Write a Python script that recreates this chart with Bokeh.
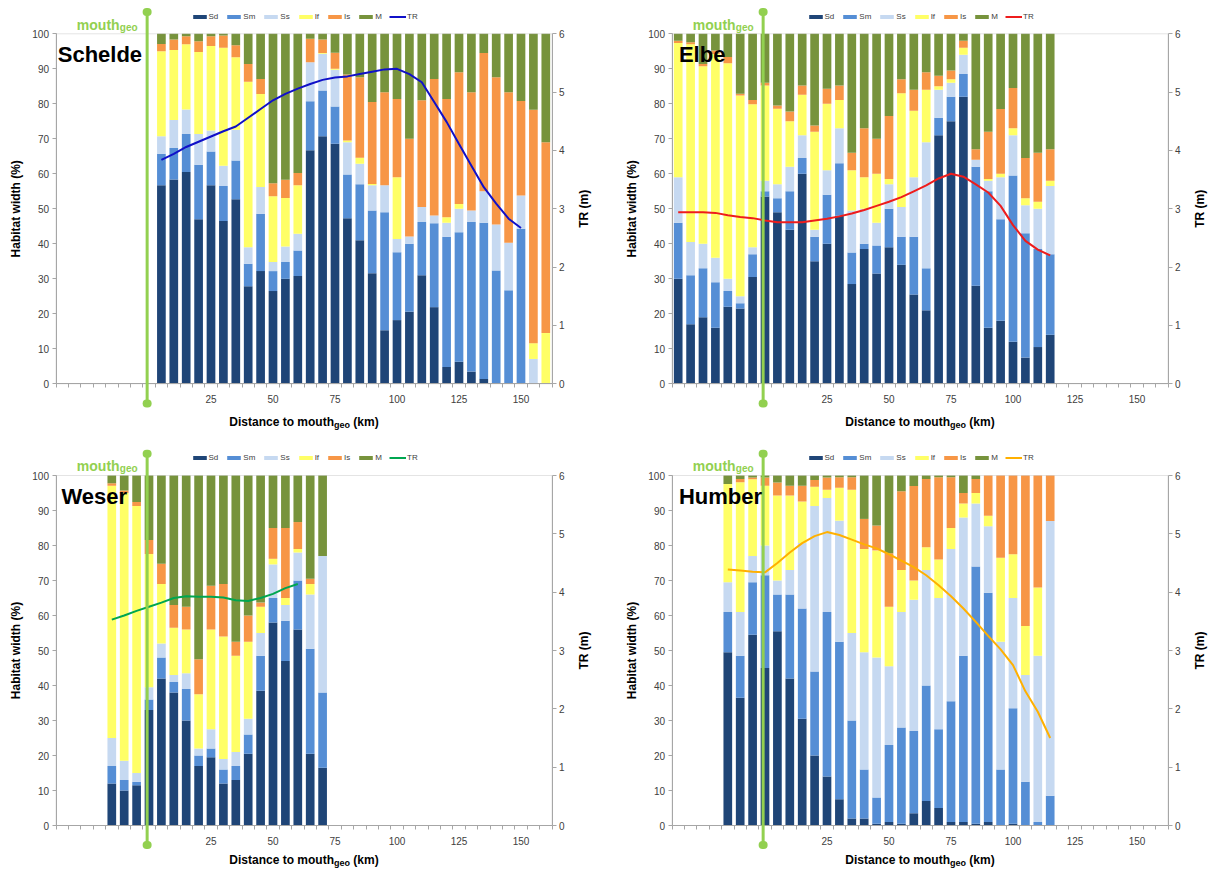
import numpy as np
from bokeh.plotting import figure
from bokeh.models import (Range1d, LinearAxis, FixedTicker, Label, Arrow, TeeHead,
                          Legend, LegendItem, BoxAnnotation)
from bokeh.layouts import column, row
from bokeh.embed import file_html
from bokeh.resources import INLINE

# ---------------- data (cumulative upper bounds of each habitat class, %) ----------------
CLASSES = ["Sd", "Sm", "Ss", "If", "Is", "M"]
X_TICKS = [25, 50, 75, 100, 125, 150]
Y_TICKS = [0, 10, 20, 30, 40, 50, 60, 70, 80, 90, 100]
TR_TICKS = [0, 1, 2, 3, 4, 5, 6]
MOUTH_KM = -0.75

SCHELDE_KM = [5, 10, 15, 20, 25, 30, 35, 40, 45, 50, 55, 60, 65, 70, 75, 80, 85, 90, 95, 100,
              105, 110, 115, 120, 125, 130, 135, 140, 145, 150, 155, 160]
SCHELDE_SD = [56.7, 58.4, 60.5, 47.0, 56.7, 46.5, 52.7, 27.9, 32.2, 26.5, 30.0, 30.8, 66.7, 70.7, 68.6,
              47.3, 41.0, 31.6, 15.3, 18.2, 20.6, 31.0, 21.9, 4.8, 6.3, 3.5, 1.4, 0, 0, 0, 0, 0]
SCHELDE_SM = [65.7, 67.4, 71.4, 62.6, 66.4, 56.5, 63.8, 34.3, 48.6, 32.2, 34.8, 38.1, 80.7, 83.8, 79.2,
              59.8, 57.0, 49.5, 49.0, 37.6, 40.0, 46.2, 45.9, 42.0, 43.3, 46.2, 46.0, 32.4, 26.7, 44.3, 0, 0]
SCHELDE_SS = [70.7, 75.4, 78.4, 71.4, 72.4, 62.3, 72.6, 39.0, 56.2, 34.8, 39.2, 42.9, 91.9, 94.3, 89.7,
              69.0, 62.9, 56.7, 56.7, 41.4, 42.1, 50.5, 48.1, 46.0, 50.0, 49.5, 55.0, 45.5, 40.3, 53.8, 7.1, 0]
SCHELDE_IF = [95.0, 95.4, 97.0, 94.8, 96.5, 96.0, 93.3, 86.3, 82.8, 53.6, 53.1, 56.7, 91.9, 94.5, 90.0,
              69.5, 64.6, 57.1, 56.7, 59.0, 42.1, 50.5, 48.1, 47.6, 51.4, 49.5, 55.0, 45.5, 40.3, 53.8, 11.6, 14.5]
SCHELDE_IS = [97.1, 98.4, 99.3, 97.9, 99.3, 99.5, 96.7, 91.4, 87.1, 57.3, 58.3, 60.2, 98.6, 98.4, 94.6,
              88.4, 87.6, 80.5, 83.3, 81.4, 70.0, 81.0, 87.1, 81.4, 89.0, 83.3, 94.5, 87.6, 83.3, 80.8, 78.3, 69.0]
SCHELDE_TR_KM = [5, 10, 15, 20, 25, 30, 35, 40, 45, 50, 55, 60, 65, 70, 75, 80, 85, 90, 95, 100,
                 105, 110, 115, 120, 125, 130, 135, 140, 145, 150]
SCHELDE_TR = [3.84, 3.94, 4.06, 4.15, 4.24, 4.33, 4.41, 4.56, 4.71, 4.86, 4.97, 5.06, 5.14, 5.21, 5.25,
              5.27, 5.31, 5.35, 5.39, 5.40, 5.31, 5.17, 4.83, 4.49, 4.11, 3.74, 3.37, 3.09, 2.83, 2.67]

ELBE_KM = [-35, -30, -25, -20, -15, -10, -5, 0, 5, 10, 15, 20, 25, 30, 35, 40, 45, 50, 55, 60,
           65, 70, 75, 80, 85, 90, 95, 100, 105, 110, 115]
ELBE_SD = [30, 17, 19, 16, 22, 21.5, 30.5, 53.5, 49, 44, 60, 35, 40, 48, 28.5, 38.5, 31.5, 39, 34, 25.5,
           21, 71, 75, 82, 28, 16, 18, 12, 7.5, 10.5, 14]
ELBE_SM = [46, 31, 33, 29, 26.5, 23, 37, 55, 53, 55, 64.5, 42, 54, 63, 37.5, 40, 39.5, 50, 42, 42,
           33, 76, 82, 88.5, 62, 55, 47, 59.5, 43, 38.5, 37]
ELBE_SS = [59, 40.5, 40, 36, 30, 25, 39, 58, 57, 62, 71, 44, 61, 73, 49.5, 50, 46, 57, 50.5, 59,
           69, 84, 86, 94, 64, 58, 59, 71, 51, 50, 56.5]
ELBE_IF = [97.4, 97, 90.7, 94.2, 91.6, 82.4, 79.9, 85.2, 78.6, 75, 82.6, 72, 80, 81.1, 61, 59, 60, 58.5, 83, 78,
           84, 85, 87, 96, 64, 58.5, 60, 73, 53, 52, 58]
ELBE_IS = [98, 97.6, 91.4, 95.2, 93.4, 82.9, 81.1, 86, 79.5, 77.8, 85.2, 73.8, 84.3, 85.2, 66, 73, 70, 76.5, 87, 84,
           89, 88, 89.5, 98, 67, 72, 78.5, 84.5, 64.5, 66, 67]
ELBE_TR_KM = ELBE_KM
ELBE_TR = [2.94, 2.94, 2.94, 2.93, 2.89, 2.86, 2.84, 2.80, 2.77, 2.77, 2.77, 2.80, 2.83, 2.87, 2.92, 2.98,
           3.05, 3.12, 3.20, 3.30, 3.40, 3.52, 3.60, 3.55, 3.42, 3.28, 3.05, 2.72, 2.45, 2.30, 2.20]

WESER_KM = [-15, -10, -5, 0, 5, 10, 15, 20, 25, 30, 35, 40, 45, 50, 55, 60, 65, 70]
WESER_SD = [12, 10, 11.5, 33, 42, 38, 30, 17, 19.5, 12, 13, 20.5, 38.5, 58, 47, 56, 20.5, 16.5]
WESER_SM = [17, 13, 12.5, 36, 48, 41, 39, 20, 22, 16, 17, 26, 48.5, 65, 58.5, 70, 50.5, 38]
WESER_SS = [25, 18.5, 15, 39.5, 52, 43, 43.5, 22, 27.5, 19, 21, 30.5, 55, 74.6, 63, 78, 66, 77]
WESER_IF = [97.1, 95, 91.3, 77.6, 69, 56.5, 56, 37.5, 56, 54, 48.5, 52.5, 62.5, 76.2, 65, 79, 69, 77]
WESER_IS = [97.8, 95.7, 92.4, 81.6, 74.8, 63, 62.5, 47.5, 68.5, 69, 52.5, 60, 63.7, 85, 85, 86.7, 70.5, 77]
WESER_TR_KM = [-15, -10, -5, 0, 5, 10, 15, 20, 25, 30, 35, 40, 45, 50, 55, 60]
WESER_TR = [3.53, 3.60, 3.68, 3.75, 3.82, 3.90, 3.93, 3.92, 3.92, 3.91, 3.86, 3.85, 3.90, 3.97, 4.07, 4.14]

HUMBER_KM = [-15, -10, -5, 0, 5, 10, 15, 20, 25, 30, 35, 40, 45, 50, 55, 60, 65, 70, 75, 80,
             85, 90, 95, 100, 105, 110, 115]
HUMBER_SD = [49.5, 36.5, 54.5, 45, 55.5, 42, 30.5, 20, 14, 7.5, 2, 2, 0.5, 1, 0.5, 3.5, 7, 5, 1, 1,
             0.5, 1, 0, 0.5, 0, 0, 0]
HUMBER_SM = [61, 48.5, 69.5, 71.5, 66, 66, 62, 44, 61, 52.5, 30, 16, 8, 23, 28, 27, 40, 27.5, 35.5, 48.5,
             74, 66.5, 16, 33.5, 12.5, 1, 8.5]
HUMBER_SS = [69.5, 61, 77, 80, 70, 73, 80.7, 91.3, 93.6, 87.1, 55, 49.5, 48, 45.5, 61, 64.5, 73, 65, 79, 88,
             92, 85.5, 52.5, 65, 43, 48.5, 87]
HUMBER_IF = [97.6, 98.1, 98.9, 97.1, 94.3, 94.3, 92.6, 96.8, 95.9, 96.5, 95.9, 79, 78.6, 62.5, 73, 70, 79.5, 76,
             85, 92, 95, 88.5, 76.5, 77.5, 57, 68, 87]
HUMBER_IS = [97.6, 99, 99.4, 99.4, 98, 97.1, 97.1, 98.7, 99.4, 99.5, 99.5, 87.6, 85.7, 77.8, 95.5, 97, 99, 99.5,
             99.5, 95, 99, 100, 100, 100, 100, 100, 100]
HUMBER_TR_KM = HUMBER_KM
HUMBER_TR = [4.39, 4.37, 4.35, 4.34, 4.50, 4.68, 4.84, 4.96, 5.03, 4.98, 4.90, 4.82, 4.75, 4.65, 4.54, 4.43,
             4.29, 4.12, 3.93, 3.72, 3.49, 3.25, 3.02, 2.75, 2.30, 1.95, 1.50]

# ---------------- style / geometry ----------------
FONT = "Liberation Sans"
COLORS = ["#1F4577", "#558ED5", "#C6D9F1", "#FFFF66", "#F79646", "#77933C"]
GREEN = "#92D050"
AXIS_GRAY = "#A6A6A6"
TICK_TEXT = "#404040"
X_MIN, X_MAX = -37.5, 162.5
X_MINOR = list(np.arange(X_MIN, X_MAX + 0.1, 5.0))
FRAME_W, FRAME_H = 496, 350
PX_KM = FRAME_W / (X_MAX - X_MIN)
PX_PCT = FRAME_H / 100.0


def style_axis(ax):
    ax.axis_line_color = AXIS_GRAY
    ax.major_tick_line_color = AXIS_GRAY
    ax.minor_tick_line_color = None
    ax.major_tick_in = 0
    ax.major_tick_out = 4
    ax.major_label_standoff = 3
    ax.major_label_text_font = FONT
    ax.major_label_text_font_size = "10px"
    ax.major_label_text_color = TICK_TEXT


def make_panel(name, km, sd, sm, ss, iff, iss, tr_km, tr, tr_color,
               width, height, fl, ft, title_y, rtitle_px, name_x):
    fr = width - fl - FRAME_W
    fb = height - ft - FRAME_H
    x0 = X_MIN - fl / PX_KM
    x1 = X_MAX + fr / PX_KM
    y0 = -fb / PX_PCT
    y1 = 100 + ft / PX_PCT
    p = figure(width=width, height=height, x_range=Range1d(x0, x1), y_range=Range1d(y0, y1),
               x_axis_type=None, y_axis_type=None, output_backend="svg", toolbar_location=None,
               min_border=0, min_border_left=0, min_border_right=0, min_border_top=0,
               min_border_bottom=0)
    p.outline_line_color = None
    p.background_fill_color = "white"
    p.border_fill_color = "white"
    p.extra_y_ranges = {"tr": Range1d(y0 * 0.06, y1 * 0.06)}

    # stacked bars
    n = len(km)
    cum = np.vstack([np.zeros(n), sd, sm, ss, iff, iss, np.full(n, 100.0)])
    cum = np.maximum.accumulate(cum, axis=0)
    items = []
    for i, (cls, col) in enumerate(zip(CLASSES, COLORS)):
        r = p.vbar(x=km, bottom=cum[i], top=cum[i + 1], width=3.5,
                   fill_color=col, line_color=None)
        items.append(LegendItem(label=cls, renderers=[r]))

    lr = p.line(tr_km, tr, y_range_name="tr", line_color=tr_color, line_width=2)
    items.append(LegendItem(label="TR", renderers=[lr]))

    # plot-area border
    p.add_layout(BoxAnnotation(left=X_MIN, right=X_MAX, bottom=0, top=100,
                               fill_color=None, fill_alpha=0, line_color=AXIS_GRAY, line_width=1))

    # axes at fixed locations
    xa = LinearAxis(ticker=FixedTicker(ticks=X_TICKS, minor_ticks=X_MINOR),
                    fixed_location=0, bounds=(X_MIN, X_MAX))
    style_axis(xa)
    xa.major_tick_out = 0
    xa.minor_tick_line_color = AXIS_GRAY
    xa.minor_tick_out = 4
    xa.minor_tick_in = 0
    xa.major_label_standoff = 7
    p.add_layout(xa, "below")

    ya = LinearAxis(ticker=FixedTicker(ticks=Y_TICKS), fixed_location=X_MIN, bounds=(0, 100))
    style_axis(ya)
    p.add_layout(ya, "left")

    ra = LinearAxis(y_range_name="tr", ticker=FixedTicker(ticks=TR_TICKS),
                    fixed_location=X_MAX, bounds=(0, 6))
    style_axis(ra)
    p.add_layout(ra, "right")

    # legend above the plot area
    leg_center_from_top = ft - 16.7
    leg = Legend(items=items, orientation="horizontal",
                 location=(fl + 135, height - (leg_center_from_top + 4)),
                 glyph_width=17, glyph_height=5, label_standoff=1, spacing=7,
                 padding=0, margin=0, label_width=0, label_height=8,
                 label_text_font=FONT, label_text_font_size="8px", label_text_color=TICK_TEXT,
                 border_line_color=None, background_fill_alpha=0)
    p.add_layout(leg)

    # mouth_geo marker
    head = dict(size=1, line_width=8, line_color=GREEN, line_cap="round")
    p.add_layout(Arrow(x_start=MOUTH_KM, y_start=-5.6, x_end=MOUTH_KM, y_end=106.2,
                       start=TeeHead(**head), end=TeeHead(**head),
                       line_color=GREEN, line_width=3))
    p.add_layout(Label(x=MOUTH_KM, y=102.6, text="mouth", text_align="right", x_offset=-27.5,
                       text_font=FONT, text_font_style="bold", text_font_size="14px",
                       text_color=GREEN, text_baseline="alphabetic"))
    p.add_layout(Label(x=MOUTH_KM, y=101.9, text="geo", text_align="right", x_offset=-9.5,
                       text_font=FONT, text_font_style="bold", text_font_size="10px",
                       text_color=GREEN, text_baseline="alphabetic"))

    # estuary name
    p.add_layout(Label(x=name_x, y=94.0, text=name, text_font=FONT, text_font_style="bold",
                       text_font_size="22px", text_color="black", text_baseline="alphabetic"))

    # axis titles
    bold = dict(text_font=FONT, text_font_style="bold", text_color="black")
    p.add_layout(Label(x=X_MIN - 40.5 / PX_KM, y=50, text="Habitat width (%)", angle=np.pi / 2,
                       text_align="center", text_baseline="middle", text_font_size="12px", **bold))
    p.add_layout(Label(x=X_MAX + rtitle_px / PX_KM, y=50, text="TR (m)", angle=np.pi / 2,
                       text_align="center", text_baseline="middle", text_font_size="12px", **bold))

    cx = (X_MIN + X_MAX) / 2
    common = dict(text_baseline="alphabetic", text_align="left", **bold)
    p.add_layout(Label(x=cx, y=title_y, text="Distance to mouth", x_offset=-74.7,
                       text_font_size="12px", **common))
    p.add_layout(Label(x=cx, y=title_y, text="geo", x_offset=-74.7 + 104.7, y_offset=-2.5,
                       text_font_size="9px", **common))
    p.add_layout(Label(x=cx, y=title_y, text="(km)", x_offset=-74.7 + 104.7 + 16.0 + 3.3,
                       text_font_size="12px", **common))
    return p


p1 = make_panel("Schelde", SCHELDE_KM, SCHELDE_SD, SCHELDE_SM, SCHELDE_SS, SCHELDE_IF, SCHELDE_IS,
                SCHELDE_TR_KM, SCHELDE_TR, "#1010C8", 608, 448, 55.5, 33.3, -11.0, 31.5, -36.8)
p2 = make_panel("Elbe", ELBE_KM, ELBE_SD, ELBE_SM, ELBE_SS, ELBE_IF, ELBE_IS,
                ELBE_TR_KM, ELBE_TR, "#EE1C1C", 602, 448, 63.5, 33.3, -11.0, 31.5, -34.7)
p3 = make_panel("Weser", WESER_KM, WESER_SD, WESER_SM, WESER_SS, WESER_IF, WESER_IS,
                WESER_TR_KM, WESER_TR, "#00A650", 608, 422, 55.5, 27.0, -9.9, 31.5, -35.3)
p4 = make_panel("Humber", HUMBER_KM, HUMBER_SD, HUMBER_SM, HUMBER_SS, HUMBER_IF, HUMBER_IS,
                HUMBER_TR_KM, HUMBER_TR, "#FFB000", 602, 422, 63.5, 27.0, -9.9, 31.5, -34.7)

layout = column(row(p1, p2), row(p3, p4))
open("out.html", "w").write(file_html(layout, INLINE))
